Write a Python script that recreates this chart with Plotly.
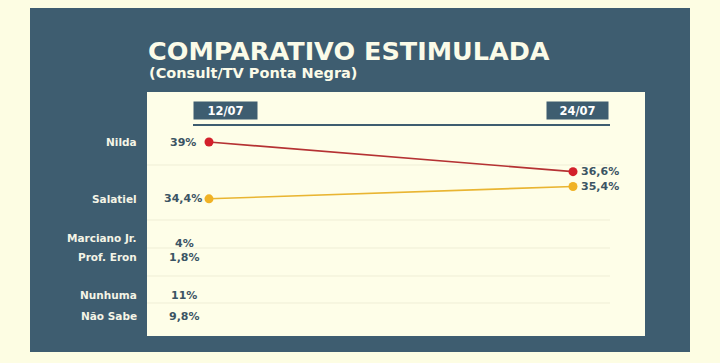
import plotly.graph_objects as go

# ---- data ----
dates = ["12/07", "24/07"]
line_names = ["Nilda", "Salatiel"]
nilda = [39.0, 36.6]
salatiel = [34.4, 35.4]
nilda_labels = ["39%", "36,6%"]
salatiel_labels = ["34,4%", "35,4%"]
other_names = ["Marciano Jr.", "Prof. Eron", "Nunhuma", "Não Sabe"]
other_labels = ["4%", "1,8%", "11%", "9,8%"]

title = "COMPARATIVO ESTIMULADA"
subtitle = "(Consult/TV Ponta Negra)"

# ---- style / layout ----
W, H = 720, 363
CREAM = "#fdfde3"
PANEL = "#fefee8"
DARK = "#3e5d70"
VAL = "#3b5464"
RED = "#d3202b"
RED_LINE = "#b53233"
YEL = "#f0b225"
YEL_LINE = "#e9b532"
NAME = "#f4f4e6"
FONT = "DejaVu Sans"

def px(x):
    return x / W

def py(y):
    return 1 - y / H

# plot area = inner panel
PL, PR, PT, PB = 147, 645, 92, 336
xr = [-0.1703, 1.1978]
yr = [23.29, 43.05]

fig = go.Figure()
xs = [0, 1]
fig.add_trace(go.Scatter(x=xs, y=nilda, mode="lines+markers",
                         line=dict(color=RED_LINE, width=1.6),
                         marker=dict(color=RED, size=9), hoverinfo="skip"))
fig.add_trace(go.Scatter(x=xs, y=salatiel, mode="lines+markers",
                         line=dict(color=YEL_LINE, width=1.6),
                         marker=dict(color=YEL, size=9), hoverinfo="skip"))

shapes = [
    dict(type="rect", xref="paper", yref="paper", x0=px(30), x1=px(690),
         y0=py(352), y1=py(8), fillcolor=DARK, line=dict(width=0), layer="below"),
    dict(type="rect", xref="paper", yref="paper", x0=px(PL), x1=px(PR),
         y0=py(PB), y1=py(PT), fillcolor=PANEL, line=dict(width=0), layer="below"),
    dict(type="line", xref="paper", yref="paper", x0=px(193), x1=px(610),
         y0=py(125), y1=py(125), line=dict(color=DARK, width=2)),
]
for gy in [165, 220, 248, 276, 303]:
    shapes.append(dict(type="line", xref="paper", yref="paper", x0=px(PL), x1=px(610),
                       y0=py(gy), y1=py(gy), line=dict(color="#efeed6", width=1),
                       layer="below"))

ann = []
ann.append(dict(text=title, xref="paper", yref="paper", x=px(146), y=py(51),
                xanchor="left", yanchor="middle", showarrow=False,
                font=dict(family=FONT, size=25.5, color="#fbfbe8", weight=700)))
ann.append(dict(text=subtitle, xref="paper", yref="paper", x=px(147), y=py(73),
                xanchor="left", yanchor="middle", showarrow=False,
                font=dict(family=FONT, size=14.5, color="#fbfbe8", weight=700)))

# date headers
for i, d in enumerate(dates):
    cx = [225.5, 577.5][i]
    ann.append(dict(text="<b>" + d + "</b>", xref="paper", yref="paper", x=px(cx), y=py(110.5),
                    xanchor="center", yanchor="middle", showarrow=False,
                    bgcolor=DARK, width=[61, 59][i], height=15, borderpad=1,
                    font=dict(family=FONT, size=11.5, color="#ffffff")))

# names for line series (at their first value)
for nm, vals in zip(line_names, [nilda, salatiel]):
    ann.append(dict(text="<b>" + nm + "</b>", xref="paper", yref="y", x=px(139), y=vals[0],
                    xanchor="right", yanchor="middle", showarrow=False,
                    font=dict(family=FONT, size=10.5, color=NAME)))

# value labels for line series
for vals, labs in zip([nilda, salatiel], [nilda_labels, salatiel_labels]):
    ann.append(dict(text="<b>" + labs[0] + "</b>", xref="paper", yref="y", x=px(183), y=vals[0],
                    xanchor="center", yanchor="middle", showarrow=False,
                    font=dict(family=FONT, size=11, color=VAL)))
    ann.append(dict(text="<b>" + labs[1] + "</b>", xref="x", yref="y", x=1, y=vals[1],
                    xanchor="left", yanchor="middle", xshift=6, showarrow=False,
                    font=dict(family=FONT, size=11, color=VAL)))

# other candidates rows
rows_y = [238, 257, 295, 316]
for nm, lab, ry in zip(other_names, other_labels, rows_y):
    ann.append(dict(text="<b>" + nm + "</b>", xref="paper", yref="paper", x=px(139), y=py(ry),
                    xanchor="right", yanchor="middle", showarrow=False,
                    font=dict(family=FONT, size=10.5, color=NAME)))
    ann.append(dict(text="<b>" + lab + "</b>", xref="paper", yref="paper", x=px(184),
                    y=py(ry + (5 if lab == "4%" else 0)),
                    xanchor="center", yanchor="middle", showarrow=False,
                    font=dict(family=FONT, size=11, color=VAL)))

fig.update_layout(
    width=W, height=H,
    margin=dict(l=0, r=0, t=0, b=0),
    paper_bgcolor=CREAM, plot_bgcolor="rgba(0,0,0,0)",
    showlegend=False,
    xaxis=dict(domain=[px(PL), px(PR)], range=xr, visible=False, fixedrange=True),
    yaxis=dict(domain=[py(PB), py(PT)], range=yr, visible=False, fixedrange=True),
    shapes=shapes, annotations=ann,
)

fig.write_html("out.html", config={"displayModeBar": False},
               post_script="document.body.style.margin='0';document.body.style.background='" + CREAM + "';")
